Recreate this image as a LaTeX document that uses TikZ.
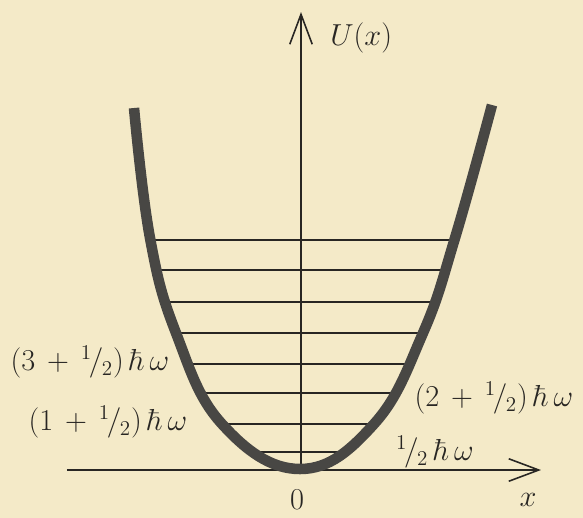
\documentclass[tikz,border=0pt]{standalone}
\usepackage{amsmath}
\usepackage{xcolor}
\usepackage{tikz}
\usetikzlibrary{arrows.meta}

\definecolor{paper}{RGB}{244,234,200}
\definecolor{ink}{RGB}{40,38,35}
\newcommand{\halfsl}{{}^{1}\mkern-2mu/\mkern-1mu{}_{2}}

\begin{document}
\begin{tikzpicture}[x=0.02cm, y=-0.02cm,
    axis/.style={draw=ink, line width=0.9pt, -{Straight Barb[length=6mm, width=4.5mm, line width=0.9pt]}},
    level/.style={draw=ink, line width=1pt},
    well/.style={draw=ink!85, line width=6pt, line join=round},
    lbl/.style={text=ink, font=\LARGE, inner sep=0pt},
]
\fill[paper] (0,0) rectangle (583,518);
\useasboundingbox (0,0) rectangle (583,518);

% axes
\coordinate (ybot) at (301,468);
\coordinate (ytop) at (301,12);
\coordinate (xleft) at (67,470);
\coordinate (xright) at (541,470);
\draw[axis] (ybot) -- (ytop);
\draw[axis] (xleft) -- (xright);

% energy levels
\foreach \y/\xl/\xr in {452/252/347, 424/224/374, 393/204/393, 364/189/409,
                        333/177/423, 302/167/436, 270/159/446, 240/152/455}
  \draw[level] (\xl,\y) -- (\xr,\y);

% potential well
\draw[well] plot[smooth, tension=0.7] coordinates {
  (134,108) (150,238) (176,333) (222,424) (300,469)
  (374,424) (423,333) (455,238) (492,105)};

% labels
\node[lbl, anchor=west] (uname) at (330,38) {$U(x)$};
\node[lbl] (xname) at (528,500) {$x$};
\node[lbl] (oname) at (297,500) {$0$};
\node[lbl] (e3) at (90,362) {$(3\,+\,\halfsl)\,\hbar\,\omega$};
\node[lbl] (e1) at (108,422) {$(1\,+\,\halfsl)\,\hbar\,\omega$};
\node[lbl] (e2) at (494,398) {$(2\,+\,\halfsl)\,\hbar\,\omega$};
\node[lbl] (e0) at (435,452) {$\halfsl\,\hbar\,\omega$};
\end{tikzpicture}
\end{document}
